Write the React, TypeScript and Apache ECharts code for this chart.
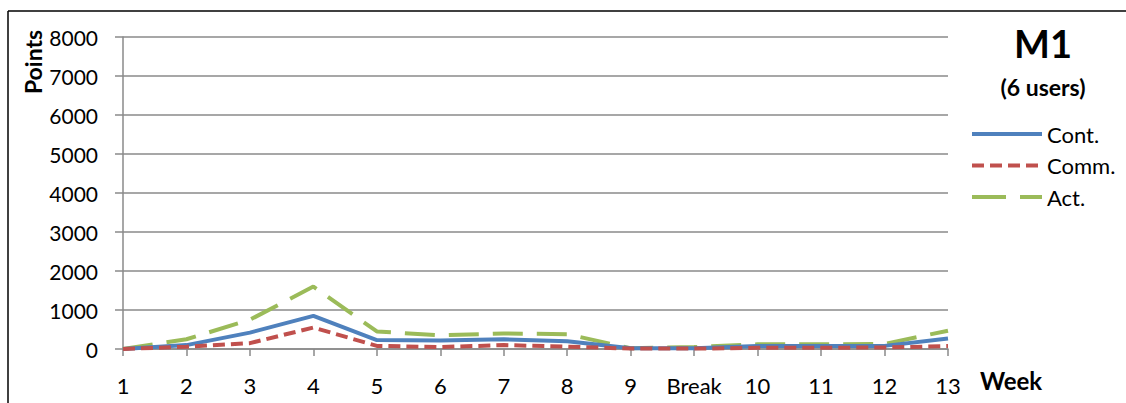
import React, { useEffect, useRef } from "react";
import * as echarts from "echarts";

// Weekly points for group M1
const weeks = ["1", "2", "3", "4", "5", "6", "7", "8", "9", "Break", "10", "11", "12", "13"];
const contPoints = [0, 100, 420, 850, 230, 220, 250, 200, 20, 20, 80, 80, 80, 270];
const commPoints = [0, 60, 150, 550, 80, 50, 100, 60, 10, 10, 30, 30, 40, 75];
const actPoints = [0, 250, 750, 1600, 450, 350, 400, 380, 20, 50, 120, 120, 130, 470];

const yTicks = { min: 0, max: 8000, interval: 1000 };

const FONT = "Lato, 'Noto Sans', sans-serif";
const GRID_GRAY = "#8a8a8a";

const seriesDefs = [
  { name: "Cont.", data: contPoints, color: "#4F81BD", dash: "solid" as any, legendDash: null as any, z: 3 },
  { name: "Comm.", data: commPoints, color: "#C0504D", dash: [12, 6] as any, legendDash: [12, 6] as any, z: 4 },
  { name: "Act.", data: actPoints, color: "#9BBB59", dash: [30, 14] as any, legendDash: [34, 14] as any, z: 2 },
];

export default function App() {
  const ref = useRef<HTMLDivElement>(null);

  useEffect(() => {
    if (!ref.current) return;
    const chart = echarts.init(ref.current, null, { renderer: "svg" });

    // legend drawn as line samples followed by labels
    const legendItems: any[] = [];
    seriesDefs.forEach((s, i) => {
      const y = 134 + i * 31.5;
      legendItems.push({
        type: "line",
        shape: { x1: 972, y1: y, x2: 1042, y2: y },
        style: { stroke: s.color, lineWidth: 4, lineDash: s.legendDash },
      });
      legendItems.push({
        type: "text",
        x: 1047,
        y,
        style: { text: s.name, font: `22px ${FONT}`, fill: "#000", textVerticalAlign: "middle" },
      });
    });

    chart.setOption({
      animation: false,
      backgroundColor: "#ffffff",
      textStyle: { fontFamily: FONT, color: "#000" },
      grid: { left: 123, top: 37, right: 178, bottom: 54, containLabel: false },
      xAxis: {
        type: "category",
        data: weeks,
        boundaryGap: false,
        axisLine: { lineStyle: { color: GRID_GRAY, width: 1.5 } },
        axisTick: { show: true, length: 7, interval: 0, lineStyle: { color: GRID_GRAY, width: 1.5 } },
        axisLabel: { interval: 0, margin: 25, fontSize: 22, color: "#000", fontFamily: FONT },
        splitLine: { show: false },
      },
      yAxis: {
        type: "value",
        min: yTicks.min,
        max: yTicks.max,
        interval: yTicks.interval,
        axisLine: { show: true, lineStyle: { color: GRID_GRAY, width: 1.5 } },
        axisTick: { show: true, length: 8, lineStyle: { color: GRID_GRAY, width: 1.5 } },
        axisLabel: {
          margin: 25,
          fontSize: 21,
          color: "#000",
          fontFamily: FONT,
          formatter: (v: number) => String(v),
        },
        splitLine: { show: true, lineStyle: { color: GRID_GRAY, width: 1.5 } },
      },
      series: seriesDefs.map((s) => ({
        name: s.name,
        type: "line",
        data: s.data,
        symbol: "none",
        color: s.color,
        lineStyle: { color: s.color, width: 4, type: s.dash },
        z: s.z,
      })),
      graphic: [
        // frame edges
        { type: "line", shape: { x1: 8, y1: 11, x2: 1126, y2: 11 }, style: { stroke: "#000", lineWidth: 1.5 } },
        { type: "line", shape: { x1: 8, y1: 11, x2: 8, y2: 403 }, style: { stroke: "#000", lineWidth: 1.5 } },
        {
          type: "text",
          x: 1043,
          y: 43,
          style: { text: "M1", font: `bold 38px ${FONT}`, fill: "#000", textAlign: "center", textVerticalAlign: "middle" },
        },
        {
          type: "text",
          x: 1043,
          y: 87,
          style: { text: "(6 users)", font: `bold 23px ${FONT}`, fill: "#000", textAlign: "center", textVerticalAlign: "middle" },
        },
        {
          type: "text",
          x: 33,
          y: 62,
          rotation: Math.PI / 2,
          style: { text: "Points", font: `bold 23px ${FONT}`, fill: "#000", textAlign: "center", textVerticalAlign: "middle" },
        },
        {
          type: "text",
          x: 1011,
          y: 380,
          style: { text: "Week", font: `bold 24px ${FONT}`, fill: "#000", textAlign: "center", textVerticalAlign: "middle" },
        },
        ...legendItems,
      ],
    });
    return () => chart.dispose();
  }, []);

  return (
    <div
      ref={ref}
      style={{ position: "fixed", left: 0, top: 0, width: 1126, height: 403, background: "#fff" }}
    />
  );
}
